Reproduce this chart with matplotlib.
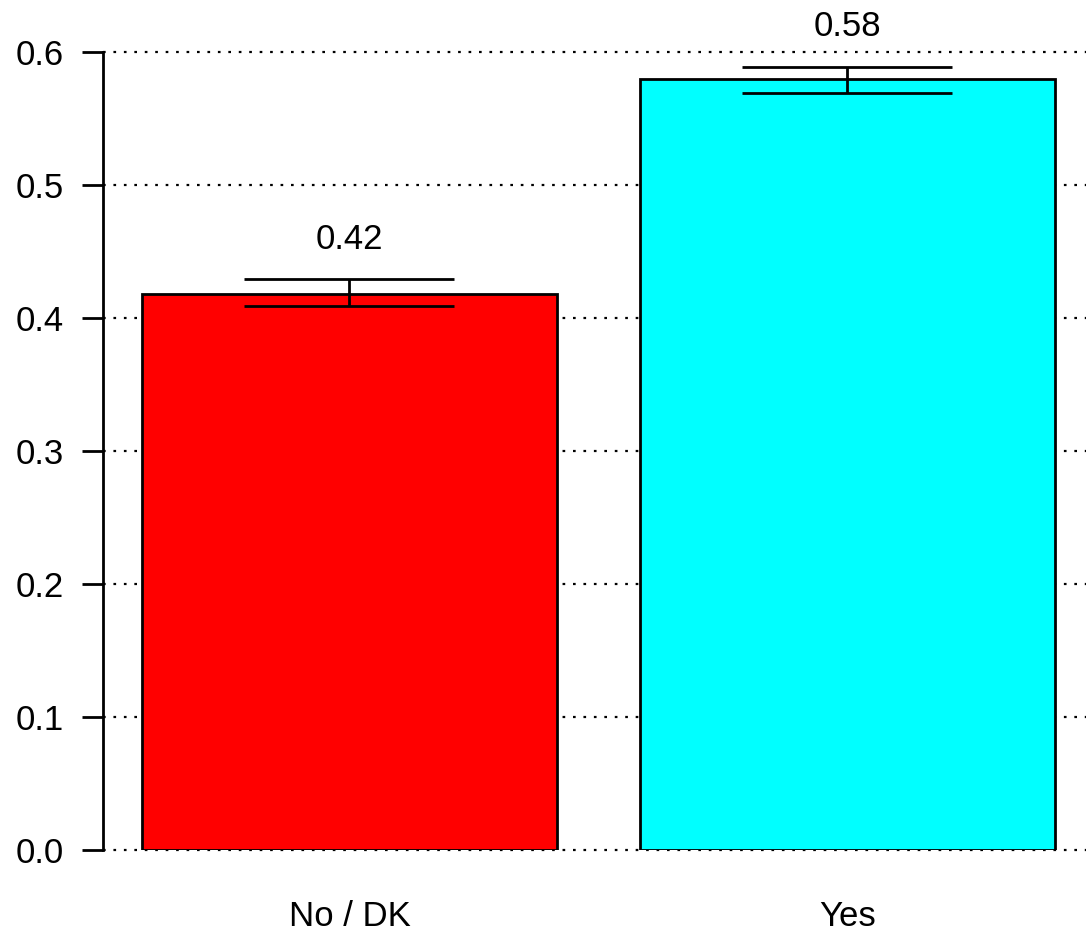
import matplotlib
matplotlib.use("Agg")
import matplotlib.pyplot as plt
import numpy as np

categories = ["No / DK", "Yes"]
values = [0.418, 0.580]
err_low = [0.409, 0.569]
err_high = [0.429, 0.589]
labels = ["0.42", "0.58"]
colors = ["#FF0000", "#00FFFF"]
yticks = [0.0, 0.1, 0.2, 0.3, 0.4, 0.5, 0.6]

plt.rcParams['font.family'] = ['Liberation Sans', 'DejaVu Sans']

fig = plt.figure(figsize=(10.86, 9.31), dpi=100)
ax = fig.add_axes([103/1086, 81/931, 983/1086, 798/931])

x = np.arange(len(categories))
ax.set_xlim(-0.495, 1.479)
ax.set_ylim(0, 0.6)

for yv in yticks:
    ax.axhline(yv, color="black", linestyle=(0, (1.2, 3.5)), linewidth=1.6, zorder=1, clip_on=False)

ax.bar(x, values, width=0.833, color=colors, edgecolor="black", linewidth=2, zorder=2)

mid = [(l + h) / 2 for l, h in zip(err_low, err_high)]
half = [(h - l) / 2 for l, h in zip(err_low, err_high)]
ax.errorbar(x, mid, yerr=half, fmt="none", ecolor="black", elinewidth=2,
            capsize=75.5, capthick=2, zorder=3)

for xi, h, lab in zip(x, err_high, labels):
    ax.text(xi, h + 0.03, lab, ha="center", va="center", fontsize=25, color="black", clip_on=False)

for s in ["top", "right", "bottom"]:
    ax.spines[s].set_visible(False)
ax.spines["left"].set_linewidth(2)
ax.set_yticks(yticks)
ax.set_yticklabels([f"{v:.1f}" for v in yticks], fontsize=25)
ax.tick_params(axis="y", length=15, width=2, pad=13)
ax.set_xticks(x)
ax.set_xticklabels(categories, fontsize=25)
ax.tick_params(axis="x", length=0, pad=36)

fig.savefig("out.png", dpi=100)
